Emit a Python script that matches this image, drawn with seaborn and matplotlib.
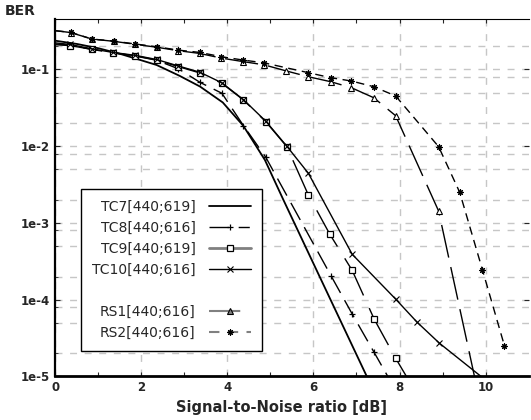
import numpy as np
import matplotlib
matplotlib.use("Agg")
import matplotlib.pyplot as plt
import seaborn as sns
from matplotlib.lines import Line2D
from matplotlib.ticker import LogLocator, FixedLocator, FuncFormatter, NullFormatter

# ================================================
# DATA
# ================================================
snr_tc7 = [0.0, 0.5, 1.0, 1.5, 1.97, 2.35, 2.88, 3.36, 3.89, 4.37, 4.87, 5.30, 6.07, 7.30]
ber_tc7 = [0.237, 0.215, 0.189, 0.16, 0.133, 0.1145, 0.083, 0.060, 0.0372, 0.0184, 0.00662, 0.0020, 2.44e-4, 8.5e-6]

snr_tc8 = [0.0, 0.34, 0.84, 1.33, 1.85, 2.35, 2.86, 3.36, 3.87, 4.37, 4.89, 6.41, 6.90, 7.41, 7.80]
ber_tc8 = [0.215, 0.207, 0.183, 0.165, 0.150, 0.132, 0.102, 0.068, 0.049, 0.0186, 0.00718, 2.04e-4, 6.52e-5, 2.06e-5, 8.5e-6]

snr_tc9 = [0.0, 0.34, 0.84, 1.33, 1.85, 2.35, 2.86, 3.36, 3.87, 4.37, 4.89, 5.38, 5.88, 6.38, 6.90, 7.41, 7.91, 8.30]
ber_tc9 = [0.210, 0.205, 0.183, 0.165, 0.151, 0.133, 0.109, 0.090, 0.066, 0.0401, 0.0209, 0.00987, 0.00232, 7.13e-4, 2.41e-4, 5.61e-5, 1.73e-5, 7.4e-6]

snr_tc10 = [0.0, 0.34, 0.84, 1.33, 1.85, 2.35, 2.86, 3.36, 3.87, 4.37, 4.89, 5.38, 5.88, 6.90, 7.91, 8.41, 8.93, 10.0]
ber_tc10 = [0.222, 0.212, 0.186, 0.167, 0.153, 0.135, 0.111, 0.092, 0.067, 0.0405, 0.0212, 0.0100, 0.00445, 3.91e-4, 1.02e-4, 5.09e-5, 2.71e-5, 9.0e-6]

snr_rs1 = [0.0, 0.35, 0.85, 1.35, 1.85, 2.35, 2.85, 3.35, 3.85, 4.35, 4.85, 5.37, 5.88, 6.40, 6.88, 7.40, 7.91, 8.91, 9.93]
ber_rs1 = [0.320, 0.303, 0.249, 0.233, 0.213, 0.195, 0.176, 0.162, 0.141, 0.127, 0.115, 0.0956, 0.0805, 0.0693, 0.0579, 0.0429, 0.0250, 0.00143, 3.3e-6]

snr_rs2 = [0.0, 0.35, 0.85, 1.35, 1.85, 2.35, 2.85, 3.35, 3.85, 4.35, 4.85, 5.88, 6.40, 6.88, 7.40, 7.91, 8.91, 9.40, 9.93, 10.44]
ber_rs2 = [0.320, 0.305, 0.249, 0.235, 0.215, 0.198, 0.179, 0.167, 0.147, 0.133, 0.122, 0.0909, 0.0782, 0.0708, 0.0597, 0.0452, 0.00987, 0.00251, 2.44e-4, 2.52e-5]

labels = ["TC7[440;619]", "TC8[440;616]", "TC9[440;619]", "TC10[440;616]", "RS1[440;616]", "RS2[440;616]"]

# ================================================
# STYLE
# ================================================
sns.set_style("white")
plt.rcParams['font.family'] = ['DejaVu Sans']

fig = plt.figure(figsize=(5.31, 4.20), dpi=100)
ax = fig.add_axes([0.1045, 0.1036, 0.9953 - 0.1045, 0.9548 - 0.1036])
ax.set_yscale('log')

asterisk = (8, 2, 0)

series = [
    (snr_tc7, ber_tc7, dict(linestyle='-', linewidth=1.3, marker=None), None),
    (snr_tc8, ber_tc8, dict(linestyle=(0, (14, 6)), linewidth=1.0, marker='+', markersize=5,
                            markeredgewidth=0.9), list(range(1, 14))),
    (snr_tc9, ber_tc9, dict(linestyle=(0, (30, 10)), linewidth=1.0, marker='s', markersize=3.8,
                            markerfacecolor='w', markeredgewidth=0.9), list(range(1, 17))),
    (snr_tc10, ber_tc10, dict(linestyle='-', linewidth=1.0, marker='x', markersize=4,
                              markeredgewidth=0.8), list(range(1, 17))),
    (snr_rs1, ber_rs1, dict(linestyle=(0, (24, 7)), linewidth=1.0, marker='^', markersize=5,
                            markerfacecolor='w', markeredgewidth=0.8), list(range(1, 18))),
    (snr_rs2, ber_rs2, dict(linestyle=(0, (6, 4)), linewidth=1.0, marker=asterisk, markersize=4.5,
                            markeredgewidth=0.8), list(range(1, 20))),
]

for x, y, kw, mev in series:
    if mev is not None:
        kw['markevery'] = mev
    sns.lineplot(x=x, y=y, ax=ax, color='k', markeredgecolor='k', legend=False, **kw)

# ================================================
# AXES
# ================================================
ax.set_xlim(0, 11)
ax.set_ylim(1e-5, 0.455)

ax.xaxis.set_major_locator(FixedLocator([0, 2, 4, 6, 8, 10]))
ax.xaxis.set_minor_locator(FixedLocator([1, 3, 5, 7, 9]))
ax.yaxis.set_major_locator(LogLocator(base=10, numticks=10))
ax.yaxis.set_minor_locator(LogLocator(base=10, subs=(2, 5, 8), numticks=10))
ax.yaxis.set_major_formatter(FuncFormatter(lambda v, p: "1e%d" % int(round(np.log10(v)))))
ax.yaxis.set_minor_formatter(NullFormatter())

ax.tick_params(axis='x', which='both', direction='in', top=True, bottom=True, length=3, width=0.8,
               labelsize=8.5, pad=3)
ax.tick_params(axis='y', which='major', direction='in', left=True, right=True, length=3.5, width=0.8,
               labelsize=8.5, pad=4)
ax.tick_params(axis='y', which='minor', direction='in', left=True, right=False, length=2, width=0.6)
for t in ax.get_xticklabels() + ax.get_yticklabels():
    t.set_fontweight('bold')

ax.grid(which='major', axis='both', color='#c6c6c6', linestyle=(0, (5, 5.5)), linewidth=1.0)
ax.grid(which='minor', axis='y', color='#c6c6c6', linestyle=(0, (5, 5.5)), linewidth=1.0)
ax.set_axisbelow(True)

for side in ['left', 'bottom', 'top', 'right']:
    ax.spines[side].set_color('k')
ax.spines['left'].set_linewidth(1.6)
ax.spines['bottom'].set_linewidth(2.0)
ax.spines['top'].set_linewidth(0.8)
ax.spines['right'].set_visible(False)

ax.set_xlabel("Signal-to-Noise ratio [dB]", fontsize=10.5, fontweight='bold', va='center')
ax.xaxis.set_label_coords(0.478, -0.088)
ax.set_ylabel("BER", rotation=0, fontsize=10, fontweight='bold', ha='left', va='center')
ax.yaxis.set_label_coords(-0.107, 1.022)

# ================================================
# LEGEND
# ================================================
handles = [
    Line2D([], [], color='k', linewidth=1.3),
    Line2D([], [], color='k', linewidth=1.0, linestyle=(0, (14, 7, 8, 20)), marker='+',
           markersize=5, markeredgewidth=0.9),
    Line2D([], [], color='#808080', linewidth=2.0, marker='s', markersize=3.8,
           markerfacecolor='w', markeredgecolor='k', markeredgewidth=0.9),
    Line2D([], [], color='k', linewidth=1.0, marker='x', markersize=4, markeredgewidth=0.8),
    Line2D([], [], linestyle='none', marker=None),
    Line2D([], [], color='#808080', linewidth=1.5, linestyle=(0, (15, 9, 4, 20)), marker='^',
           markersize=5, markerfacecolor='#808080', markeredgecolor='k', markeredgewidth=0.8),
    Line2D([], [], color='#808080', linewidth=1.5, linestyle=(0, (5, 4)), marker=asterisk,
           markersize=4.5, markeredgecolor='k', markeredgewidth=0.8),
]
leg_labels = labels[:4] + [' '] + labels[4:]
leg = ax.legend(handles, leg_labels, loc='lower left', bbox_to_anchor=(0.0533, 0.071),
                borderaxespad=0, markerfirst=False, handlelength=3.0, handletextpad=1.0,
                labelspacing=0.5, borderpad=0.8, fontsize=10, fancybox=False, framealpha=1,
                edgecolor='k')
leg.get_frame().set_linewidth(1.0)

plt.savefig('out.png', dpi=100)
